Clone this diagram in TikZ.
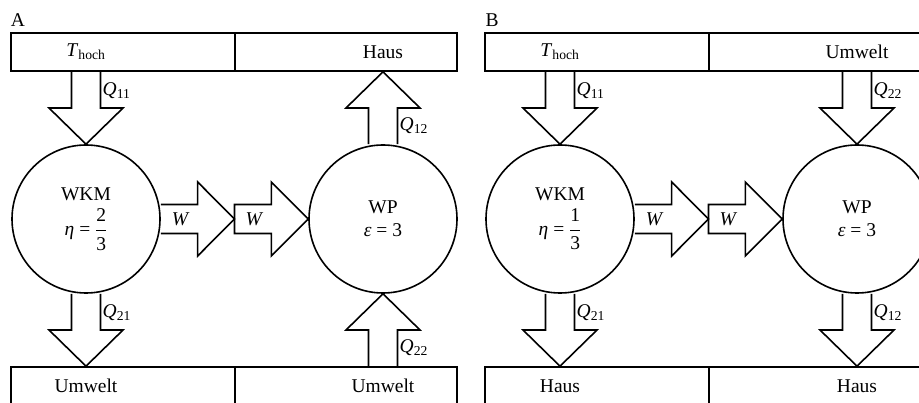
\documentclass[tikz,border=0pt]{standalone}
\usepackage{fontspec}
\usepackage{amsmath}
\setmainfont{Liberation Serif}
\usetikzlibrary{calc}

\tikzset{
  box/.style={draw, line width=1.6pt, minimum height=38pt, inner sep=0pt},
  machine/.style={draw, circle, line width=1.6pt, minimum size=148pt, inner sep=0pt, align=center},
  flow/.style={line width=1.6pt, line join=miter},
  qlab/.style={anchor=west, inner sep=0pt, xshift=16.5pt},
}

% block arrow from #1 to #2, label #4 beside the shaft
\newcommand\heatflow[4]{%
  \coordinate (hb) at ($(#1)!.5!(#2)$);
  \draw[flow] ($(#1)!14.5pt!90:(#2)$) -- ($(hb)!14.5pt!90:(#2)$) -- ($(hb)!37pt!90:(#2)$)
    -- (#2) -- ($(hb)!37pt!-90:(#2)$) -- ($(hb)!14.5pt!-90:(#2)$) -- ($(#1)!14.5pt!-90:(#2)$);
  \node[qlab] (#3) at ($(#1)!19pt!(#2)$) {#4};}

% same arrow, W inside the shaft; #4 closes the base or not
\newcommand\workflow[4]{%
  \coordinate (hb) at ($(#1)!.5!(#2)$);
  \draw[flow] ($(#1)!14.5pt!90:(#2)$) -- ($(hb)!14.5pt!90:(#2)$) -- ($(hb)!37pt!90:(#2)$)
    -- (#2) -- ($(hb)!37pt!-90:(#2)$) -- ($(hb)!14.5pt!-90:(#2)$) -- ($(#1)!14.5pt!-90:(#2)$) #4;
  \node[inner sep=0pt] (#3) at ($(#1)!.27!(#2)$) {\textit{W}};}

\newcommand\Qsub[1]{\textit{Q}\textsubscript{#1}}

\begin{document}
\begin{tikzpicture}[x=1pt,y=-1pt,font=\fontsize{19.5}{23}\selectfont]
\useasboundingbox (0,0) rectangle (919,403);

% ---- A
\node (labA) at (18,20) {A};
\node[box, minimum width=224pt] (topA1) at (123,52) {};
\node[box, minimum width=222pt] (topA2) at (346,52) {};
\node[box, minimum width=224pt] (botA1) at (123,386) {};
\node[box, minimum width=222pt] (botA2) at (346,386) {};
\node[machine] (wkmA) at (86,219) {WKM\\[7pt]\textit{η} = $\dfrac{\text{2}}{\text{3}}$};
\node[machine] (wpA) at (383,219) {WP\\\textit{ε} = 3};
\node (hochA) at (wkmA |- topA1) {\textit{T}\textsubscript{hoch}};
\node (hausA) at (wpA |- topA2) {Haus};
\node (umwA1) at (wkmA |- botA1) {Umwelt};
\node (umwA2) at (wpA |- botA2) {Umwelt};
\coordinate (wA) at ($(wkmA.east)!.5!(wpA.west)$);

\heatflow{wkmA |- topA1.south}{wkmA.north}{q11A}{\Qsub{11}}
\heatflow{wpA.north}{wpA |- topA2.south}{q12A}{\Qsub{12}}
\heatflow{wkmA.south}{wkmA |- botA1.north}{q21A}{\Qsub{21}}
\heatflow{wpA |- botA2.north}{wpA.south}{q22A}{\Qsub{22}}
\workflow{wkmA.east}{wA}{w1A}{}
\workflow{wA}{wpA.west}{w2A}{-- cycle}

% ---- B
\begin{scope}[xshift=474pt]
\node (labB) at (18,20) {B};
\node[box, minimum width=224pt] (topB1) at (123,52) {};
\node[box, minimum width=222pt] (topB2) at (346,52) {};
\node[box, minimum width=224pt] (botB1) at (123,386) {};
\node[box, minimum width=222pt] (botB2) at (346,386) {};
\node[machine] (wkmB) at (86,219) {WKM\\[7pt]\textit{η} = $\dfrac{\text{1}}{\text{3}}$};
\node[machine] (wpB) at (383,219) {WP\\\textit{ε} = 3};
\node (hochB) at (wkmB |- topB1) {\textit{T}\textsubscript{hoch}};
\node (umwB) at (wpB |- topB2) {Umwelt};
\node (hausB1) at (wkmB |- botB1) {Haus};
\node (hausB2) at (wpB |- botB2) {Haus};
\coordinate (wB) at ($(wkmB.east)!.5!(wpB.west)$);

\heatflow{wkmB |- topB1.south}{wkmB.north}{q11B}{\Qsub{11}}
\heatflow{wpB |- topB2.south}{wpB.north}{q22B}{\Qsub{22}}
\heatflow{wkmB.south}{wkmB |- botB1.north}{q21B}{\Qsub{21}}
\heatflow{wpB.south}{wpB |- botB2.north}{q12B}{\Qsub{12}}
\workflow{wkmB.east}{wB}{w1B}{}
\workflow{wB}{wpB.west}{w2B}{-- cycle}
\end{scope}
\end{tikzpicture}
\end{document}
